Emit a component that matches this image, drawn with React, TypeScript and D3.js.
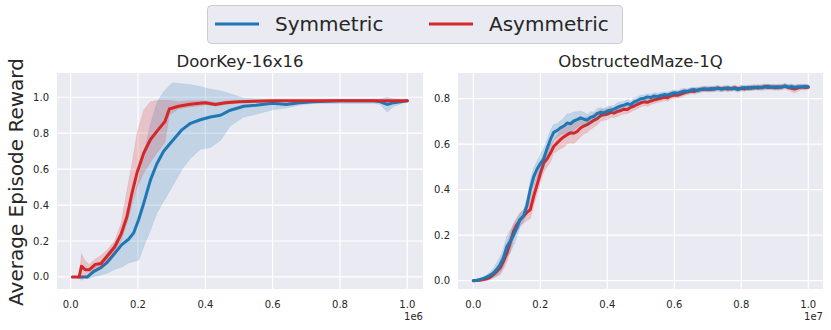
import * as d3 from 'd3';

// DoorKey-16x16 (x in units of 1e6)
const doorBlueX = [0.024, 0.05, 0.068, 0.088, 0.108, 0.128, 0.152, 0.172, 0.187, 0.202, 0.217, 0.237, 0.256, 0.276, 0.301, 0.331, 0.356, 0.385, 0.415, 0.445, 0.474, 0.514, 0.55, 0.6, 0.64, 0.68, 0.72, 0.8, 0.9, 0.92, 0.94, 0.96, 1.0];
const doorBlueMean = [0, 0, 0.03, 0.05, 0.08, 0.125, 0.18, 0.21, 0.245, 0.32, 0.41, 0.54, 0.63, 0.7, 0.755, 0.82, 0.855, 0.875, 0.89, 0.9, 0.928, 0.95, 0.955, 0.967, 0.96, 0.97, 0.975, 0.98, 0.98, 0.975, 0.96, 0.97, 0.98];
const doorBlueHi = [0, 0.01, 0.05, 0.08, 0.13, 0.18, 0.26, 0.35, 0.43, 0.55, 0.69, 0.85, 0.97, 1.03, 1.08, 1.075, 1.07, 1.06, 1.045, 1.035, 1.02, 0.995, 0.99, 0.985, 0.985, 0.985, 0.985, 0.985, 0.985, 0.99, 1.0, 0.99, 0.985];
const doorBlueLo = [0, -0.01, 0, 0.01, 0.02, 0.04, 0.055, 0.078, 0.085, 0.095, 0.17, 0.26, 0.356, 0.42, 0.5, 0.6, 0.66, 0.71, 0.72, 0.76, 0.84, 0.89, 0.905, 0.93, 0.94, 0.955, 0.965, 0.965, 0.965, 0.96, 0.917, 0.95, 0.975];

const doorRedX = [0.005, 0.025, 0.032, 0.043, 0.055, 0.073, 0.09, 0.108, 0.13, 0.15, 0.167, 0.182, 0.197, 0.217, 0.237, 0.26, 0.28, 0.293, 0.32, 0.35, 0.375, 0.4, 0.43, 0.46, 0.5, 0.55, 0.6, 0.7, 0.8, 0.9, 1.0];
const doorRedMean = [0, 0, 0.06, 0.04, 0.04, 0.07, 0.075, 0.115, 0.165, 0.24, 0.335, 0.465, 0.58, 0.69, 0.765, 0.82, 0.865, 0.935, 0.95, 0.96, 0.965, 0.97, 0.96, 0.97, 0.975, 0.978, 0.98, 0.98, 0.98, 0.98, 0.98];
const doorRedHi = [0, 0, 0.13, 0.09, 0.07, 0.1, 0.12, 0.15, 0.2, 0.3, 0.48, 0.63, 0.8, 0.93, 0.975, 0.983, 0.983, 0.983, 0.975, 0.98, 0.98, 0.98, 0.972, 0.98, 0.982, 0.984, 0.985, 0.985, 0.985, 0.985, 0.983];
const doorRedLo = [0, 0, -0.02, 0, 0.02, 0.04, 0.05, 0.08, 0.13, 0.2, 0.3, 0.4, 0.5, 0.58, 0.64, 0.7, 0.75, 0.9, 0.935, 0.945, 0.95, 0.958, 0.95, 0.96, 0.968, 0.972, 0.975, 0.976, 0.976, 0.976, 0.977];

// ObstructedMaze-1Q (x in units of 1e7, one point every 0.01)
const mazeX = d3.range(101).map(i => i / 100);
const mazeBlueMean = [
  0, 0.002, 0.006, 0.01, 0.016, 0.024, 0.034, 0.05, 0.07, 0.1,
  0.15, 0.172, 0.2, 0.232, 0.27, 0.285, 0.33, 0.4, 0.455, 0.49,
  0.515, 0.535, 0.58, 0.62, 0.652, 0.66, 0.672, 0.68, 0.693, 0.69,
  0.702, 0.708, 0.716, 0.71, 0.706, 0.718, 0.722, 0.735, 0.74, 0.738,
  0.746, 0.75, 0.754, 0.762, 0.768, 0.772, 0.778, 0.774, 0.786, 0.792,
  0.8, 0.802, 0.808, 0.805, 0.812, 0.81, 0.814, 0.818, 0.816, 0.822,
  0.826, 0.824, 0.83, 0.834, 0.832, 0.838, 0.84, 0.836, 0.842, 0.844,
  0.84, 0.845, 0.843, 0.846, 0.842, 0.845, 0.848, 0.843, 0.846, 0.84,
  0.847, 0.849, 0.845, 0.85, 0.847, 0.852, 0.848, 0.851, 0.855, 0.85,
  0.853, 0.848, 0.852, 0.856, 0.851, 0.854, 0.849, 0.853, 0.851, 0.855,
  0.853,
];
const mazeBlueSpread = [
  0, 0.002, 0.004, 0.006, 0.01, 0.014, 0.02, 0.03, 0.035, 0.04,
  0.045, 0.05, 0.045, 0.04, 0.03, 0.025, 0.03, 0.04, 0.04, 0.035,
  0.04, 0.045, 0.04, 0.04, 0.035, 0.03, 0.03, 0.035, 0.04, 0.045,
  0.04, 0.035, 0.03, 0.03, 0.025, 0.025, 0.02, 0.022, 0.02, 0.018,
  0.02, 0.018, 0.016, 0.02, 0.018, 0.016, 0.018, 0.015, 0.017, 0.015,
  0.016, 0.014, 0.015, 0.013, 0.015, 0.013, 0.014, 0.012, 0.014, 0.012,
  0.013, 0.011, 0.013, 0.012, 0.011, 0.012, 0.011, 0.013, 0.011, 0.012,
  0.01, 0.012, 0.011, 0.013, 0.01, 0.012, 0.011, 0.01, 0.012, 0.011,
  0.012, 0.01, 0.011, 0.012, 0.01, 0.012, 0.011, 0.013, 0.01, 0.012,
  0.011, 0.012, 0.01, 0.012, 0.011, 0.012, 0.01, 0.011, 0.012, 0.01,
  0.01,
];
const mazeRedMean = [
  0, 0.001, 0.002, 0.005, 0.008, 0.015, 0.027, 0.04, 0.056, 0.085,
  0.12, 0.166, 0.217, 0.246, 0.268, 0.283, 0.3, 0.312, 0.37, 0.42,
  0.47, 0.517, 0.535, 0.56, 0.59, 0.605, 0.62, 0.632, 0.642, 0.65,
  0.648, 0.656, 0.671, 0.68, 0.686, 0.695, 0.705, 0.712, 0.726, 0.73,
  0.732, 0.74, 0.737, 0.744, 0.748, 0.754, 0.752, 0.762, 0.768, 0.775,
  0.782, 0.786, 0.784, 0.79, 0.795, 0.798, 0.802, 0.806, 0.804, 0.812,
  0.816, 0.815, 0.82, 0.826, 0.83, 0.834, 0.832, 0.838, 0.84, 0.842,
  0.843, 0.84, 0.844, 0.847, 0.843, 0.846, 0.842, 0.845, 0.848, 0.844,
  0.846, 0.843, 0.849, 0.846, 0.851, 0.847, 0.85, 0.854, 0.849, 0.852,
  0.848, 0.853, 0.85, 0.855, 0.85, 0.846, 0.843, 0.848, 0.852, 0.849,
  0.85,
];
const mazeRedSpread = [
  0, 0.001, 0.003, 0.005, 0.008, 0.012, 0.015, 0.02, 0.03, 0.035,
  0.04, 0.04, 0.035, 0.03, 0.03, 0.03, 0.035, 0.04, 0.045, 0.04,
  0.04, 0.04, 0.035, 0.04, 0.03, 0.035, 0.04, 0.045, 0.04, 0.045,
  0.045, 0.04, 0.04, 0.035, 0.035, 0.03, 0.03, 0.028, 0.025, 0.025,
  0.025, 0.022, 0.02, 0.022, 0.02, 0.02, 0.018, 0.02, 0.018, 0.02,
  0.018, 0.016, 0.018, 0.015, 0.016, 0.015, 0.016, 0.014, 0.015, 0.014,
  0.014, 0.013, 0.014, 0.012, 0.013, 0.012, 0.013, 0.011, 0.012, 0.011,
  0.012, 0.011, 0.012, 0.01, 0.012, 0.011, 0.012, 0.01, 0.012, 0.011,
  0.012, 0.01, 0.012, 0.011, 0.012, 0.01, 0.012, 0.011, 0.012, 0.01,
  0.012, 0.011, 0.012, 0.01, 0.012, 0.015, 0.018, 0.014, 0.012, 0.011,
  0.01,
];

const seriesNames = ['Symmetric', 'Asymmetric'];
const seriesColors = ['#1f77b4', '#d62728'];
const panelTitles = ['DoorKey-16x16', 'ObstructedMaze-1Q'];
const xTicks = [0, 0.2, 0.4, 0.6, 0.8, 1.0];
const doorYTicks = [0, 0.2, 0.4, 0.6, 0.8, 1.0];
const mazeYTicks = [0, 0.2, 0.4, 0.6, 0.8];
const xExponents = ['1e6', '1e7'];

type Series = { x: number[]; mean: number[]; lo: number[]; hi: number[]; color: string };

const FONT = 'DejaVu Sans, sans-serif';
const TEXT = '#262626';

function Panel(props: {
  left: number; right: number; top: number; bottom: number;
  xDomain: [number, number]; yDomain: [number, number];
  yTicks: number[]; title: string; exponent: string; series: Series[];
}) {
  const { left, right, top, bottom, xDomain, yDomain, yTicks, title, exponent, series } = props;
  const x = d3.scaleLinear().domain(xDomain).range([left, right]);
  const y = d3.scaleLinear().domain(yDomain).range([bottom, top]);
  const clipId = 'clip-' + title;

  return (
    <g>
      <defs>
        <clipPath id={clipId}>
          <rect x={left} y={top} width={right - left} height={bottom - top} />
        </clipPath>
      </defs>
      <rect x={left} y={top} width={right - left} height={bottom - top} fill="#eaeaf2" />
      {xTicks.map(t => (
        <line key={'gx' + t} x1={x(t)} x2={x(t)} y1={top} y2={bottom} stroke="#fff" strokeWidth={1.2} />
      ))}
      {yTicks.map(t => (
        <line key={'gy' + t} x1={left} x2={right} y1={y(t)} y2={y(t)} stroke="#fff" strokeWidth={1.2} />
      ))}
      <g clipPath={`url(#${clipId})`}>
        {series.map((s, k) => {
          const idx = d3.range(s.x.length);
          const area = d3.area<number>()
            .x(i => x(s.x[i]))
            .y0(i => y(s.lo[i]))
            .y1(i => y(s.hi[i]));
          const line = d3.line<number>()
            .x(i => x(s.x[i]))
            .y(i => y(s.mean[i]));
          return (
            <g key={k}>
              <path d={area(idx) || ''} fill={s.color} fillOpacity={0.2} stroke={s.color} strokeOpacity={0.2} strokeWidth={0.5} />
              <path d={line(idx) || ''} fill="none" stroke={s.color} strokeWidth={3} strokeLinejoin="round" strokeLinecap="round" />
            </g>
          );
        })}
      </g>
      {xTicks.map(t => (
        <text key={'tx' + t} x={x(t)} y={bottom + 19} textAnchor="middle" fontSize={10} fill={TEXT} fontFamily={FONT}>
          {t.toFixed(1)}
        </text>
      ))}
      {yTicks.map(t => (
        <text key={'ty' + t} x={left - 8} y={y(t)} dy="0.35em" textAnchor="end" fontSize={10} fill={TEXT} fontFamily={FONT}>
          {t.toFixed(1)}
        </text>
      ))}
      <text x={right} y={bottom + 31} textAnchor="end" fontSize={10} fill={TEXT} fontFamily={FONT}>{exponent}</text>
      <text x={(left + right) / 2} y={top - 6} textAnchor="middle" fontSize={16.5} fill={TEXT} fontFamily={FONT}>{title}</text>
    </g>
  );
}

export default function App() {
  const W = 831, H = 330;
  const doorSeries: Series[] = [
    { x: doorBlueX, mean: doorBlueMean, lo: doorBlueLo, hi: doorBlueHi, color: seriesColors[0] },
    { x: doorRedX, mean: doorRedMean, lo: doorRedLo, hi: doorRedHi, color: seriesColors[1] },
  ];
  const mazeSeries: Series[] = [
    { x: mazeX, mean: mazeRedMean, lo: mazeRedMean.map((m, i) => m - mazeRedSpread[i]), hi: mazeRedMean.map((m, i) => m + mazeRedSpread[i]), color: seriesColors[1] },
    { x: mazeX, mean: mazeBlueMean, lo: mazeBlueMean.map((m, i) => m - mazeBlueSpread[i]), hi: mazeBlueMean.map((m, i) => m + mazeBlueSpread[i]), color: seriesColors[0] },
  ];

  return (
    <svg width={W} height={H} style={{ position: 'absolute', left: 0, top: 0, background: '#fff' }}>
      <Panel left={57} right={423} top={73} bottom={289} xDomain={[-0.0407, 1.0466]} yDomain={[-0.067, 1.135]}
        yTicks={doorYTicks} title={panelTitles[0]} exponent={xExponents[0]} series={doorSeries} />
      <Panel left={458} right={823} top={73} bottom={289} xDomain={[-0.0457, 1.0439]} yDomain={[-0.0365, 0.913]}
        yTicks={mazeYTicks} title={panelTitles[1]} exponent={xExponents[1]} series={mazeSeries} />
      <text transform="translate(23,182) rotate(-90)" textAnchor="middle" fontSize={20} fill={TEXT} fontFamily={FONT}>
        Average Episode Reward
      </text>
      <g>
        <rect x={207.5} y={5.5} width={415} height={38} rx={4} fill="#eaeaf2" stroke="#cccccc" strokeWidth={1} />
        {seriesNames.map((name, i) => {
          const x0 = i === 0 ? 215 : 429;
          return (
            <g key={name}>
              <line x1={x0} x2={x0 + 44} y1={24} y2={24} stroke={seriesColors[i]} strokeWidth={3} />
              <text x={x0 + 60} y={24} dy="0.35em" fontSize={20} fill={TEXT} fontFamily={FONT}>{name}</text>
            </g>
          );
        })}
      </g>
    </svg>
  );
}
